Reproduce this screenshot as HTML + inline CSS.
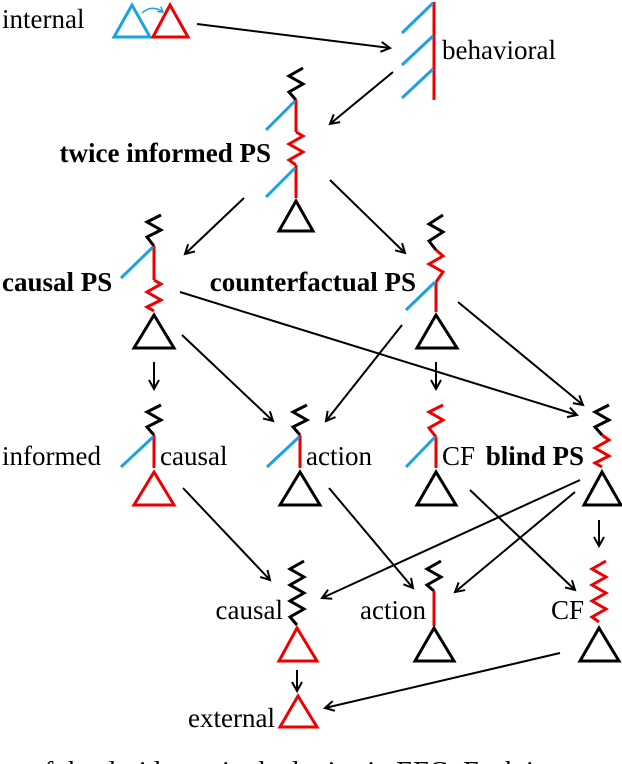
<!DOCTYPE html>
<html><head><meta charset="utf-8"><style>
html,body{margin:0;padding:0;background:#fff;}
svg{display:block;}
text{font-family:"Liberation Serif",serif;font-size:27px;fill:#000;}
.b{font-weight:bold;}
</style></head><body>
<svg width="622" height="764" viewBox="0 0 622 764" xmlns="http://www.w3.org/2000/svg">
<defs>
<marker id="a" markerWidth="12" markerHeight="12" refX="10" refY="6" orient="auto" markerUnits="userSpaceOnUse">
<path d="M1,1 L10,6 L1,11" fill="none" stroke="#000" stroke-width="2"/></marker>
<marker id="ab" markerWidth="8" markerHeight="8" refX="6" refY="4" orient="auto" markerUnits="userSpaceOnUse">
<path d="M1,1 L6,4 L1,7" fill="none" stroke="#1aa3e0" stroke-width="1.5"/></marker>
</defs>
<g fill="none" stroke-width="3">
<polygon points="114,37 132,5 150,37" stroke="#1aa3e0"/>
<polygon points="153,37 170,5 188,37" stroke="#e00"/>
<path d="M142,13 Q152,4 163,12" stroke="#1aa3e0" stroke-width="1.5" marker-end="url(#ab)"/>
<line x1="434" y1="2" x2="434" y2="100" stroke="#e00"/>
<line x1="402" y1="33" x2="433" y2="3" stroke="#1aa3e0"/>
<line x1="402" y1="65" x2="433" y2="36" stroke="#1aa3e0"/>
<line x1="402" y1="98" x2="433" y2="69" stroke="#1aa3e0"/>
<polyline points="303,68 289,76 303,84 289,92 296,100" stroke="#000"/>
<line x1="296" y1="100" x2="296" y2="132" stroke="#e00"/>
<polyline points="296,132 303,136 289,144 303,152 289,160 296,165" stroke="#e00"/>
<line x1="296" y1="165" x2="296" y2="198" stroke="#e00"/>
<line x1="266" y1="130" x2="295" y2="101" stroke="#1aa3e0"/>
<line x1="266" y1="197" x2="295" y2="168" stroke="#1aa3e0"/>
<polygon points="279,231 296,201 313,231" stroke="#000"/>
<polyline points="161,215 147,222 161,230 147,237 154,246" stroke="#000"/>
<line x1="154" y1="246" x2="154" y2="280" stroke="#e00"/>
<polyline points="154,280 161,284 147,292 161,300 147,307 154,311" stroke="#e00"/>
<line x1="121" y1="278" x2="153" y2="247" stroke="#1aa3e0"/>
<polygon points="134,348 154,315 174,348" stroke="#000"/>
<polyline points="443,215 429,224 443,232 429,241 436,250" stroke="#000"/>
<polyline points="436,250 443,256 429,264 443,272 436,282" stroke="#e00"/>
<line x1="436" y1="282" x2="436" y2="312" stroke="#e00"/>
<line x1="406" y1="310" x2="435" y2="282" stroke="#1aa3e0"/>
<polygon points="417,348 436,315 457,348" stroke="#000"/>
<polyline points="161,405 147,412 161,420 147,427 154,435" stroke="#000"/>
<line x1="154" y1="435" x2="154" y2="468" stroke="#e00"/>
<line x1="121" y1="467" x2="153" y2="437" stroke="#1aa3e0"/>
<polygon points="134,505 154,472 174,505" stroke="#e00"/>
<polyline points="307,405 293,412 307,420 293,427 300,435" stroke="#000"/>
<line x1="300" y1="435" x2="300" y2="468" stroke="#e00"/>
<line x1="267" y1="467" x2="299" y2="437" stroke="#1aa3e0"/>
<polygon points="280,505 300,472 320,505" stroke="#000"/>
<polyline points="443,405 429,412 443,420 429,428 436,437" stroke="#e00"/>
<line x1="436" y1="437" x2="436" y2="468" stroke="#e00"/>
<line x1="406" y1="467" x2="435" y2="437" stroke="#1aa3e0"/>
<polygon points="417,505 436,472 456,505" stroke="#000"/>
<polyline points="609,405 595,412 609,420 595,427 602,435" stroke="#000"/>
<polyline points="602,435 609,440 595,448 609,456 595,463 602,467" stroke="#e00"/>
<polygon points="584,505 602,472 621,505" stroke="#000"/>
<polyline points="304,561 290,569 304,577 290,585 304,593 290,601 304,609 290,617 297,625" stroke="#000"/>
<polygon points="279,661 297,628 317,661" stroke="#e00"/>
<polyline points="441,561 427,569 441,577 427,585 434,591" stroke="#000"/>
<line x1="434" y1="591" x2="434" y2="626" stroke="#e00"/>
<polygon points="415,661 434,628 454,661" stroke="#000"/>
<polyline points="606,561 592,569 606,577 592,585 606,593 592,601 606,609 592,617 599,622" stroke="#e00"/>
<polygon points="580,661 599,628 619,661" stroke="#000"/>
<polygon points="280,727 298,696 317,727" stroke="#e00"/>
</g>
<g stroke="#000" stroke-width="2" fill="none" marker-end="url(#a)">
<line x1="197" y1="24" x2="390" y2="48"/>
<line x1="393" y1="72" x2="330" y2="124"/>
<line x1="244" y1="198" x2="185" y2="254"/>
<line x1="330" y1="180" x2="405" y2="253"/>
<line x1="154" y1="362" x2="154" y2="389"/>
<line x1="182" y1="335" x2="273" y2="421"/>
<line x1="180" y1="292" x2="577" y2="415"/>
<line x1="402" y1="325" x2="326" y2="421"/>
<line x1="436" y1="362" x2="436" y2="389"/>
<line x1="458" y1="302" x2="583" y2="405"/>
<line x1="183" y1="488" x2="270" y2="580"/>
<line x1="329" y1="488" x2="413" y2="588"/>
<line x1="470" y1="490" x2="575" y2="590"/>
<line x1="580" y1="480" x2="322" y2="598"/>
<line x1="575" y1="492" x2="455" y2="592"/>
<line x1="599" y1="520" x2="599" y2="546"/>
<line x1="297" y1="670" x2="297" y2="691"/>
<line x1="560" y1="653" x2="325" y2="708"/>
</g>
<text x="2" y="28">internal</text>
<text x="442" y="59">behavioral</text>
<text class="b" x="271" y="162" text-anchor="end">twice informed PS</text>
<text class="b" x="2" y="291">causal PS</text>
<text class="b" x="416" y="291" text-anchor="end">counterfactual PS</text>
<text x="2" y="465">informed</text>
<text x="160" y="465">causal</text>
<text x="306" y="465">action</text>
<text x="442" y="465">CF</text>
<text class="b" x="584" y="465" text-anchor="end">blind PS</text>
<text x="283" y="619" text-anchor="end">causal</text>
<text x="426" y="619" text-anchor="end">action</text>
<text x="584" y="619" text-anchor="end">CF</text>
<text x="275" y="727" text-anchor="end">external</text>
<text x="30" y="781" style="font-size:28px">of the desiderata in the lattice in EFG. Each is a ...</text>
</svg>
</body></html>
